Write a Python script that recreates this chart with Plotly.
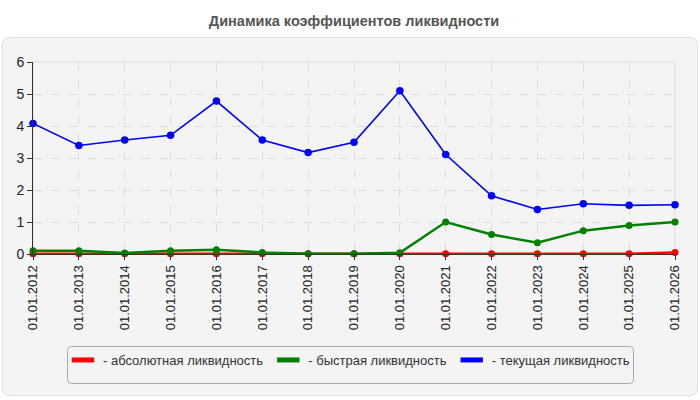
import plotly.graph_objects as go

# даты отчётности
dates = ['01.01.2012', '01.01.2013', '01.01.2014', '01.01.2015', '01.01.2016',
         '01.01.2017', '01.01.2018', '01.01.2019', '01.01.2020', '01.01.2021',
         '01.01.2022', '01.01.2023', '01.01.2024', '01.01.2025', '01.01.2026']

# коэффициенты ликвидности
absolute = [0.01, 0.01, 0.01, 0.01, 0.01, 0.01, 0.01, 0.01, 0.01, 0.01,
            0.01, 0.01, 0.01, 0.01, 0.05]
quick = [0.10, 0.10, 0.03, 0.10, 0.13, 0.05, 0.01, 0.01, 0.04, 1.00,
         0.61, 0.35, 0.73, 0.89, 1.00]
current = [4.08, 3.39, 3.56, 3.71, 4.78, 3.56, 3.17, 3.49, 5.10, 3.11,
           1.82, 1.39, 1.57, 1.52, 1.54]

names = ['- абсолютная ликвидность', '- быстрая ликвидность', '- текущая ликвидность']
colors = ['#ff0000', '#008000', '#0000ff']

W, H = 700, 400
L, R, T, B = 33, 25, 62, 146
pw, ph = W - L - R, H - T - B


def to_paper(X, Y):
    return (X - L) / pw, (H - B - Y) / ph


def rounded(x0, y0, x1, y1, r):
    # прямоугольник со скруглёнными углами, в пикселях -> path в долях paper
    pts = [('M', x0 + r, y0), ('L', x1 - r, y0), ('Q', x1, y0, x1, y0 + r),
           ('L', x1, y1 - r), ('Q', x1, y1, x1 - r, y1), ('L', x0 + r, y1),
           ('Q', x0, y1, x0, y1 - r), ('L', x0, y0 + r), ('Q', x0, y0, x0 + r, y0)]
    out = ''
    for p in pts:
        cmd, coords = p[0], p[1:]
        s = []
        for i in range(0, len(coords), 2):
            a, b = to_paper(coords[i], coords[i + 1])
            s.append('%.5f,%.5f' % (a, b))
        out += cmd + ' '.join(s) + ' '
    return out + 'Z'


fig = go.Figure()

series = [absolute, quick, current]
widths = [2.5, 2.5, 1.6]
sizes = [7, 7, 7.5]
for vals, c, w, s in zip(series, colors, widths, sizes):
    fig.add_trace(go.Scatter(x=dates, y=vals, mode='lines+markers',
                             line=dict(color=c, width=w),
                             marker=dict(color=c, size=s),
                             cliponaxis=False, showlegend=False))

# элементы легенды с прямоугольными маркерами
for n, c in zip(names, colors):
    fig.add_trace(go.Scatter(x=[None], y=[None], mode='markers', name=n,
                             marker=dict(symbol='line-ew', size=18,
                                         line=dict(color=c, width=7))))

fig.add_shape(type='path', xref='paper', yref='paper', layer='below',
              path=rounded(2.5, 37.5, 697.5, 395.5, 7),
              fillcolor='#f4f4f4', line=dict(color='#e2e2e2', width=1))
fig.add_shape(type='path', xref='paper', yref='paper', layer='below',
              path=rounded(67.5, 346.5, 633.5, 383.5, 4),
              fillcolor='#f4f4f4', line=dict(color='#aaaaaa', width=1))
fig.add_shape(type='rect', xref='paper', yref='paper', layer='below',
              x0=0, x1=1, y0=0, y1=1, line=dict(color='#dddddd', width=1))

fig.update_layout(
    width=W, height=H,
    margin=dict(l=L, r=R, t=T, b=B),
    paper_bgcolor='white', plot_bgcolor='#fbfbf6',
    font=dict(family='Liberation Sans, Arial, sans-serif', size=12, color='#222'),
    title=dict(text='<b>Динамика коэффициентов ликвидности</b>',
               x=0.5, xref='paper', xanchor='center', y=0.947, yanchor='middle',
               font=dict(size=14.5, color='#555')),
    legend=dict(orientation='h', x=to_paper(63, 0)[0], xanchor='left',
                y=to_paper(0, 360)[1], yanchor='middle',
                bgcolor='rgba(0,0,0,0)', font=dict(size=13, color='#333'),
                itemwidth=30),
)
fig.update_xaxes(type='category', range=[0, len(dates) - 1], tickangle=-90,
                 showgrid=True, gridcolor='#dddddd', griddash='dash',
                 showline=True, linecolor='#333', linewidth=1,
                 ticks='outside', ticklen=5, tickcolor='#333',
                 tickfont=dict(size=13, color='#222'), zeroline=False)
fig.update_yaxes(range=[0, 6], dtick=1, showgrid=True, gridcolor='#dddddd',
                 griddash='dash', showline=True, linecolor='#333', linewidth=1,
                 ticks='outside', ticklen=5, tickcolor='#333',
                 tickfont=dict(size=14, color='#222'), zeroline=False)

fig.write_html('out.html', config={'displayModeBar': False},
               post_script="document.body.style.margin='0px';")
